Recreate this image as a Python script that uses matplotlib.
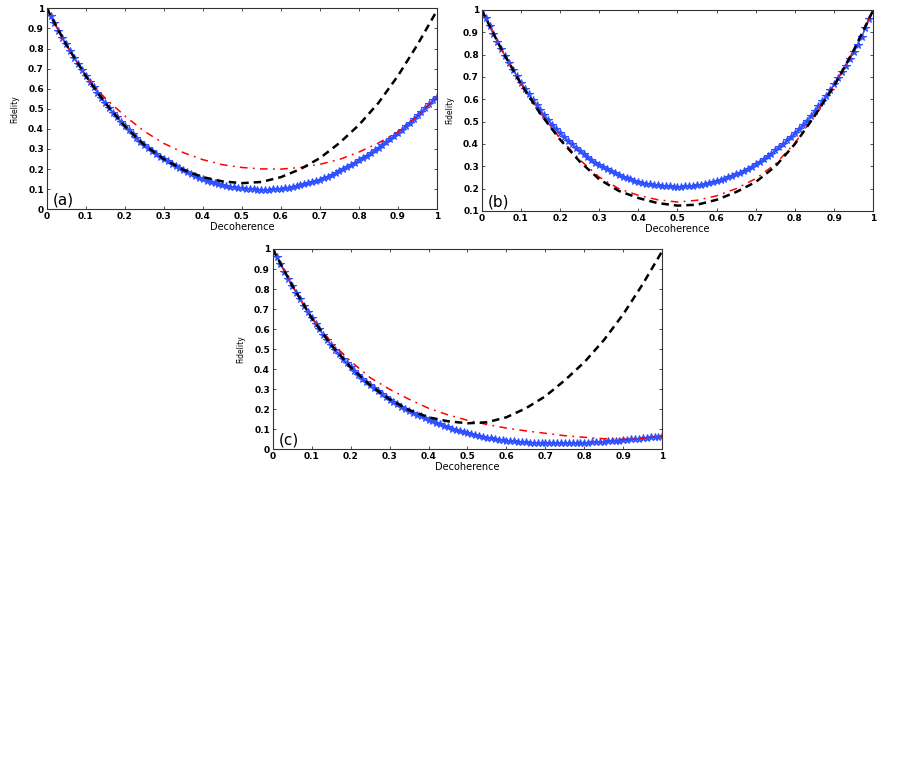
import numpy as np
import matplotlib
matplotlib.use("Agg")
import matplotlib.pyplot as plt
from matplotlib.ticker import FormatStrFormatter

# -------------------------------------------------------
# Fidelity vs decoherence, three panels (a), (b), (c)
# -------------------------------------------------------

# dense grid used by the starred (blue) curves, coarse grid for the lines
x_fine = np.linspace(0, 1, 101)
x_coarse = np.linspace(0, 1, 21)

# panel (a)
blue_a = [1.000, 0.962, 0.925, 0.889, 0.854, 0.820, 0.787, 0.755, 0.724, 0.694,
          0.664, 0.635, 0.607, 0.580, 0.554, 0.529, 0.505, 0.481, 0.458, 0.436,
          0.414, 0.394, 0.374, 0.355, 0.337, 0.320, 0.304, 0.289, 0.275, 0.262,
          0.250, 0.238, 0.226, 0.215, 0.204, 0.194, 0.184, 0.175, 0.166, 0.158,
          0.150, 0.143, 0.136, 0.130, 0.125, 0.120, 0.116, 0.112, 0.109, 0.106,
          0.104, 0.102, 0.100, 0.099, 0.098, 0.097, 0.097, 0.098, 0.099, 0.100,
          0.102, 0.105, 0.108, 0.111, 0.115, 0.119, 0.124, 0.129, 0.135, 0.141,
          0.148, 0.155, 0.163, 0.171, 0.180, 0.189, 0.199, 0.209, 0.220, 0.231,
          0.243, 0.255, 0.267, 0.280, 0.293, 0.306, 0.320, 0.334, 0.348, 0.363,
          0.380, 0.397, 0.414, 0.431, 0.449, 0.467, 0.485, 0.504, 0.523, 0.542,
          0.561]
red_a = [1.000, 0.820, 0.664, 0.552, 0.465, 0.388, 0.328, 0.282, 0.247, 0.222,
         0.208, 0.201, 0.200, 0.208, 0.224, 0.248, 0.285, 0.330, 0.385, 0.465,
         0.560]
black_a = [1.000, 0.820, 0.664, 0.529, 0.414, 0.320, 0.250, 0.196, 0.160, 0.139,
           0.130, 0.136, 0.160, 0.200, 0.255, 0.330, 0.420, 0.530, 0.665, 0.820,
           0.990]

# panel (b)
blue_b = [1.000, 0.963, 0.927, 0.892, 0.858, 0.825, 0.793, 0.762, 0.732, 0.703,
          0.675, 0.648, 0.622, 0.597, 0.573, 0.550, 0.528, 0.507, 0.487, 0.467,
          0.448, 0.431, 0.415, 0.399, 0.384, 0.370, 0.356, 0.342, 0.329, 0.317,
          0.305, 0.295, 0.286, 0.277, 0.269, 0.261, 0.254, 0.247, 0.241, 0.236,
          0.231, 0.227, 0.223, 0.220, 0.217, 0.215, 0.213, 0.211, 0.210, 0.209,
          0.209, 0.209, 0.210, 0.211, 0.213, 0.215, 0.217, 0.220, 0.224, 0.228,
          0.233, 0.238, 0.244, 0.250, 0.257, 0.264, 0.272, 0.280, 0.289, 0.299,
          0.309, 0.320, 0.332, 0.344, 0.357, 0.371, 0.385, 0.400, 0.416, 0.432,
          0.449, 0.467, 0.486, 0.505, 0.526, 0.547, 0.569, 0.592, 0.616, 0.641,
          0.667, 0.694, 0.722, 0.751, 0.781, 0.812, 0.844, 0.880, 0.918, 0.958,
          1.000]
red_b = [1.000, 0.825, 0.670, 0.540, 0.425, 0.330, 0.252, 0.200, 0.170, 0.150,
         0.140, 0.148, 0.168, 0.200, 0.245, 0.310, 0.405, 0.525, 0.660, 0.820,
         1.000]
black_b = [1.000, 0.825, 0.670, 0.535, 0.420, 0.322, 0.242, 0.190, 0.158, 0.135,
           0.124, 0.128, 0.150, 0.185, 0.230, 0.300, 0.400, 0.525, 0.660, 0.820,
           1.000]

# panel (c)
blue_c = [1.000, 0.962, 0.924, 0.887, 0.851, 0.816, 0.782, 0.749, 0.717, 0.686,
          0.656, 0.627, 0.599, 0.572, 0.546, 0.521, 0.497, 0.474, 0.452, 0.431,
          0.410, 0.390, 0.371, 0.353, 0.336, 0.320, 0.304, 0.289, 0.275, 0.261,
          0.248, 0.236, 0.224, 0.213, 0.202, 0.192, 0.182, 0.173, 0.164, 0.155,
          0.147, 0.139, 0.132, 0.124, 0.117, 0.110, 0.103, 0.097, 0.091, 0.085,
          0.080, 0.075, 0.070, 0.066, 0.062, 0.058, 0.055, 0.052, 0.049, 0.046,
          0.044, 0.042, 0.040, 0.038, 0.037, 0.035, 0.034, 0.033, 0.032, 0.031,
          0.031, 0.030, 0.030, 0.030, 0.030, 0.030, 0.030, 0.031, 0.031, 0.032,
          0.033, 0.034, 0.035, 0.036, 0.037, 0.038, 0.040, 0.041, 0.043, 0.044,
          0.046, 0.048, 0.050, 0.052, 0.054, 0.056, 0.058, 0.060, 0.062, 0.064,
          0.066]
red_c = [1.000, 0.818, 0.658, 0.535, 0.440, 0.358, 0.300, 0.250, 0.205, 0.172,
         0.145, 0.124, 0.106, 0.092, 0.080, 0.068, 0.060, 0.053, 0.050, 0.056,
         0.066]
black_c = [1.000, 0.818, 0.656, 0.521, 0.410, 0.320, 0.250, 0.196, 0.160, 0.140,
           0.130, 0.135, 0.160, 0.205, 0.265, 0.345, 0.435, 0.545, 0.675, 0.825,
           0.990]

panel_labels = ["(a)", "(b)", "(c)"]
x_ticks = np.arange(0, 1.01, 0.1)

BLUE = "#2f50ff"


def draw_panel(ax, blue, red, black, label, ymin):
    ax.plot(x_fine, blue, color=BLUE, marker="*", markersize=5.5,
            markeredgewidth=0.8, linewidth=1.0)
    ax.plot(x_coarse, red, color="red", linestyle="-.", linewidth=1.1,
            dashes=(5.0, 3.5, 1.2, 3.5))
    ax.plot(x_coarse, black, color="black", linestyle="--", linewidth=1.8,
            dashes=(3.0, 2.0))

    ax.set_xlim(0, 1)
    ax.set_ylim(ymin, 1)
    ax.set_xticks(x_ticks)
    ax.set_yticks(np.arange(ymin, 1.001, 0.1))
    ax.xaxis.set_major_formatter(FormatStrFormatter("%g"))
    ax.yaxis.set_major_formatter(FormatStrFormatter("%g"))
    ax.tick_params(direction="in", length=2.5, width=0.6, top=True, right=True,
                   labelsize=6.5, pad=2, colors="#333333", labelcolor="black")
    for t in ax.get_xticklabels() + ax.get_yticklabels():
        t.set_fontweight("bold")
    for sp in ax.spines.values():
        sp.set_linewidth(0.8)
        sp.set_color("#333333")

    ax.set_xlabel("Decoherence", fontsize=7, labelpad=1)
    ax.set_ylabel("Fidelity", fontsize=5.5, labelpad=6)
    ax.text(0.015, 0.045, label, transform=ax.transAxes, fontsize=11,
            ha="left", va="center")


fig = plt.figure(figsize=(8.99, 7.63), dpi=100)
plt.rcParams["font.family"] = ["DejaVu Sans"]

ax_a = fig.add_axes([0.0519, 0.7257, 0.4343, 0.2634])
ax_b = fig.add_axes([0.5358, 0.7235, 0.4356, 0.2634])
ax_c = fig.add_axes([0.3033, 0.4111, 0.4334, 0.2626])

draw_panel(ax_a, blue_a, red_a, black_a, panel_labels[0], 0.0)
draw_panel(ax_b, blue_b, red_b, black_b, panel_labels[1], 0.1)
draw_panel(ax_c, blue_c, red_c, black_c, panel_labels[2], 0.0)

fig.savefig("out.png", dpi=100)
